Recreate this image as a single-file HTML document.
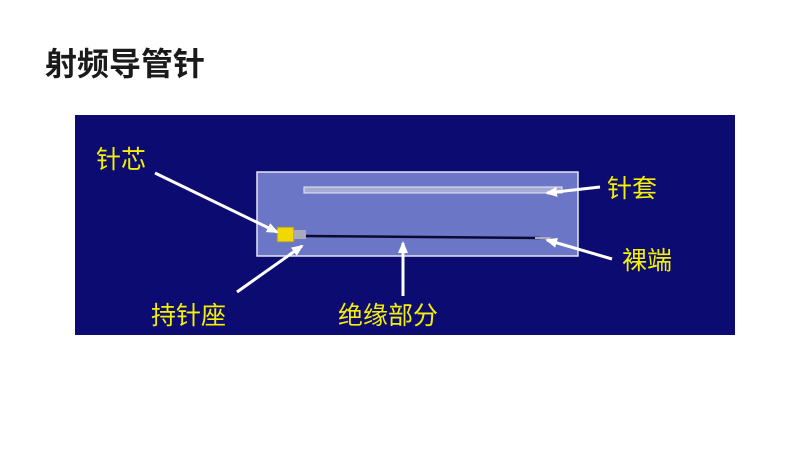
<!DOCTYPE html>
<html><head><meta charset="utf-8"><style>
body{margin:0;width:800px;height:450px;background:#fff;position:relative;overflow:hidden;font-family:"Liberation Sans","Noto Sans CJK SC",sans-serif}
.t{position:absolute;left:45px;top:45px;font-size:32px;line-height:38px;font-weight:bold;color:#1a1a1a}
.p{position:absolute;left:75px;top:115px;width:660px;height:220px;background:#0b0b72}
.l{position:absolute;color:#f4f000;font-size:25px;line-height:30px;font-family:"Liberation Sans","Noto Sans CJK SC",sans-serif}
</style></head><body>
<div class="t">射频导管针</div>
<div class="p"></div>
<svg style="position:absolute;left:0;top:0" width="800" height="450">
<defs><marker id="a" markerWidth="12" markerHeight="10" refX="10" refY="5" orient="auto" markerUnits="userSpaceOnUse"><path d="M0,0 L12,5 L0,10 z" fill="#fff"/></marker></defs>
<rect x="257" y="172" width="321" height="84" fill="#6c76c6" stroke="#e4e4f0" stroke-width="1.5"/>
<rect x="304" y="187" width="258" height="6" fill="#a4acd4" stroke="#e8eaf4" stroke-width="1"/>
<line x1="305" y1="236" x2="540" y2="238" stroke="#0a0a30" stroke-width="2.5"/>
<line x1="535" y1="238" x2="551" y2="238" stroke="#aab" stroke-width="2"/>
<rect x="277" y="227" width="17" height="15" fill="#f0d800" stroke="#886" stroke-width="1"/>
<rect x="294" y="230" width="12" height="9" fill="#aab" />
<g stroke="#fff" stroke-width="3" fill="none" marker-end="url(#a)">
<line x1="155" y1="173" x2="277" y2="232"/>
<line x1="600" y1="187" x2="547" y2="193"/>
<line x1="612" y1="259" x2="547" y2="240"/>
<line x1="237" y1="292" x2="302" y2="246"/>
<line x1="403" y1="296" x2="403" y2="243"/>
</g>
</svg>
<div class="l" style="left:96px;top:145px">针芯</div>
<div class="l" style="left:607px;top:174px">针套</div>
<div class="l" style="left:622px;top:246px">裸端</div>
<div class="l" style="left:151px;top:301px">持针座</div>
<div class="l" style="left:338px;top:301px">绝缘部分</div>
</body></html>
